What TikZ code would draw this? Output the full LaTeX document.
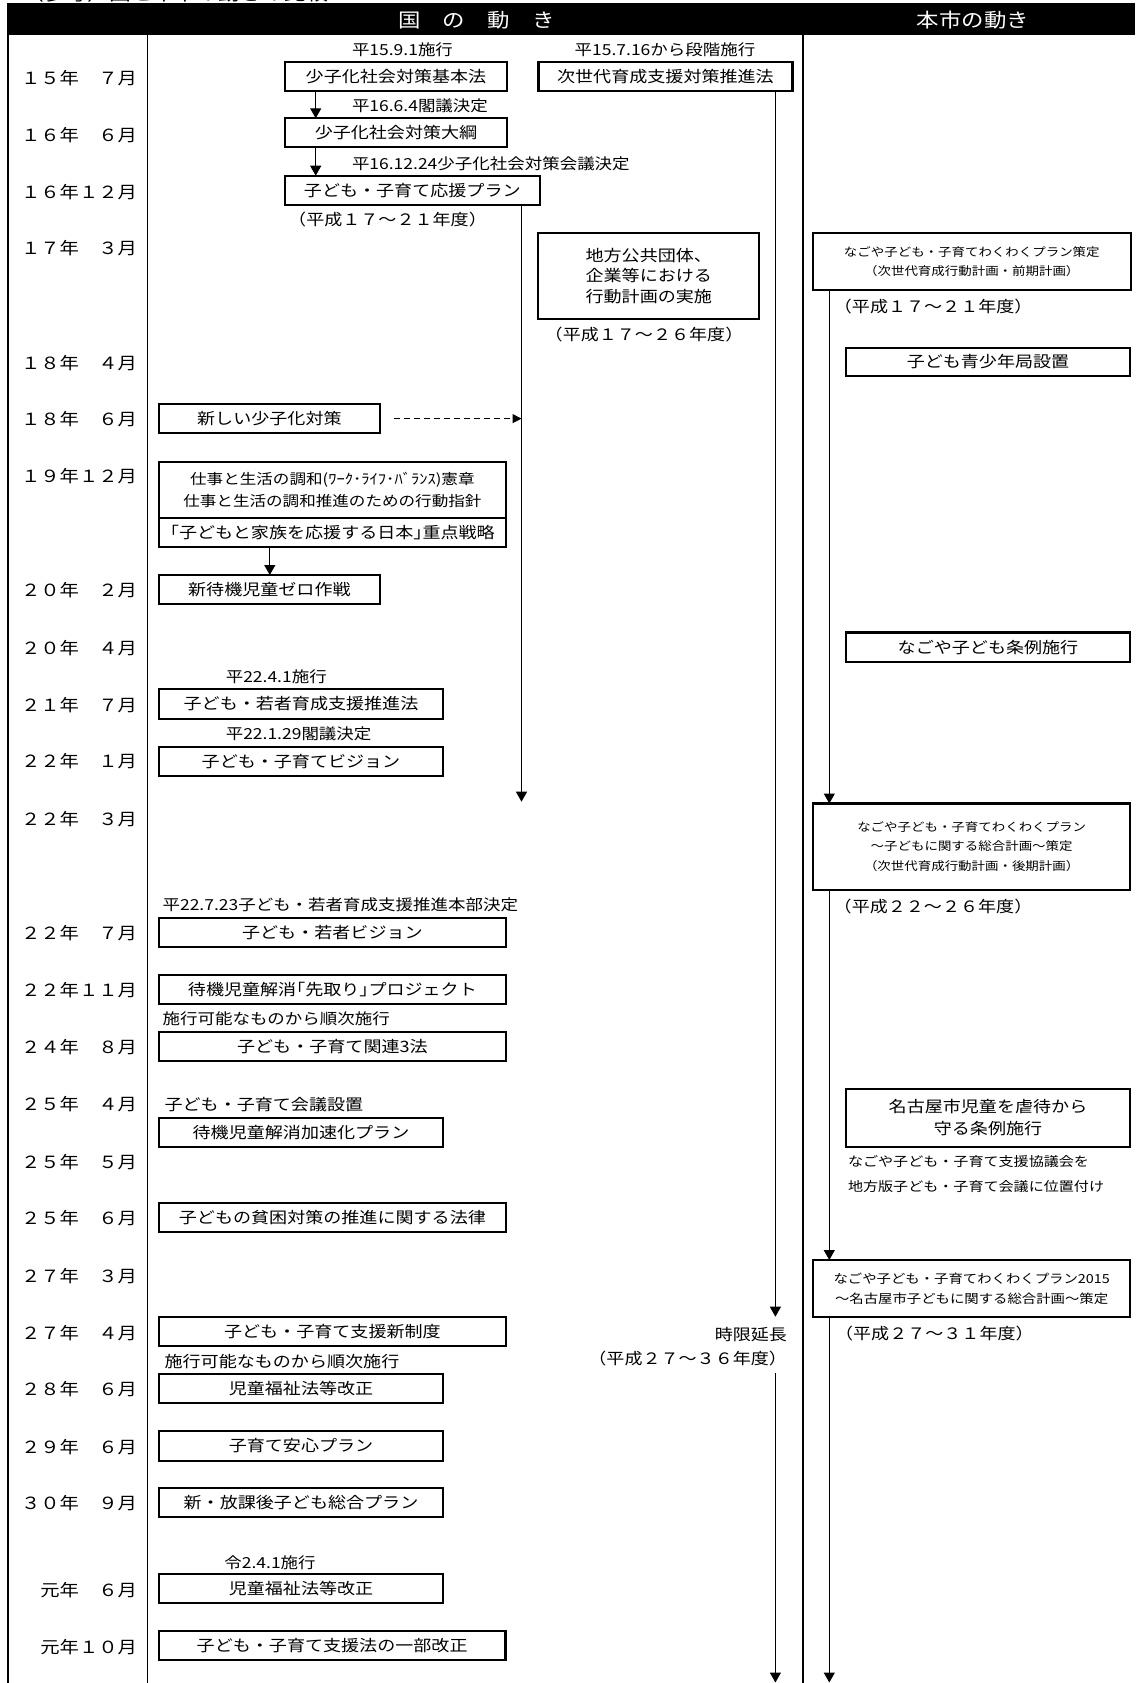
\documentclass[tikz,border=0pt]{standalone}
\usepackage{fontspec}
\setmainfont{Noto Sans CJK JP}[FakeStretch=1.15]
\usetikzlibrary{arrows.meta}
\newcommand\jfHead{\fontsize{19.5}{22}\selectfont}
\newcommand\jfDate{\fontsize{16.8}{19}\selectfont}
\newcommand\jfBox{\fontsize{15.7}{20}\selectfont}
\newcommand\jfSmall{\fontsize{15.2}{18}\selectfont}
\newcommand\jfWlb{\fontsize{14.4}{21.7}\selectfont}
\newcommand\jfTiny{\fontsize{11.7}{19.5}\selectfont}
\newcommand\jfPlan{\fontsize{12.5}{20}\selectfont}
\newcommand\jfKyogi{\fontsize{13.1}{16}\selectfont}
\begin{document}
\begin{tikzpicture}[x=1pt,y=-1pt,
  every node/.style={inner sep=0pt,outer sep=0pt},
  bx/.style={draw,line width=2.2pt,anchor=north west,align=center,font=\jfBox},
  datel/.style={anchor=east,font=\jfDate},
  sml/.style={font=\jfSmall},
  yr/.style={font=\jfBox},
  conn/.style={line width=1.2pt,-{Triangle[width=11pt,length=10pt]}},
  dconn/.style={line width=1.2pt,dash pattern=on 6pt off 4pt,-{Triangle[width=9pt,length=9pt]}},
  colline/.style={line width=#1},
]
\useasboundingbox (0,0) rectangle (1135,1683);
% title (cut off at top)
\begin{scope}
\clip (0,0) rectangle (1135,1683);
\node[anchor=base west,font=\fontsize{19}{22}\selectfont] (title) at (22,0.8) {（参考）国と本市の動きの比較};
\end{scope}
% header
\fill[black] (7,3.3) rectangle (1135,35.5);
\node[font=\jfHead,text=white] (hkuni) at (476.5,20) {国　の　動　き};
\node[font=\jfHead,text=white] (hshi) at (972.8,20) {本市の動き};
% column lines
\draw[colline=2.2pt] (8,35) -- (8,1683);
\draw[colline=1.6pt] (147.5,35) -- (147.5,1683);
\draw[colline=2.8pt] (803,35) -- (803,1683);
% dates
\node[datel] (d1) at (137,78.4) {１５年　７月};
\node[datel] (d2) at (137,135.3) {１６年　６月};
\node[datel] (d3) at (137,192) {１６年１２月};
\node[datel] (d4) at (137,248) {１７年　３月};
\node[datel] (d5) at (137,363) {１８年　４月};
\node[datel] (d6) at (137,419.5) {１８年　６月};
\node[datel] (d7) at (137,476.2) {１９年１２月};
\node[datel] (d8) at (137,590.3) {２０年　２月};
\node[datel] (d9) at (137,648) {２０年　４月};
\node[datel] (d10) at (137,705.2) {２１年　７月};
\node[datel] (d11) at (137,761.5) {２２年　１月};
\node[datel] (d12) at (137,819.3) {２２年　３月};
\node[datel] (d13) at (137,933.2) {２２年　７月};
\node[datel] (d14) at (137,990) {２２年１１月};
\node[datel] (d15) at (137,1046.8) {２４年　８月};
\node[datel] (d16) at (137,1104.5) {２５年　４月};
\node[datel] (d17) at (137,1161.8) {２５年　５月};
\node[datel] (d18) at (137,1218.5) {２５年　６月};
\node[datel] (d19) at (137,1276.5) {２７年　３月};
\node[datel] (d20) at (137,1332.7) {２７年　４月};
\node[datel] (d21) at (137,1389.4) {２８年　６月};
\node[datel] (d22) at (137,1447) {２９年　６月};
\node[datel] (d23) at (137,1503.3) {３０年　９月};
\node[datel] (d24) at (137,1590) {元年　６月};
\node[datel] (d25) at (137,1647) {元年１０月};
% national boxes
\node[bx,minimum width=222,minimum height=29] (kihon) at (285,61.7) {少子化社会対策基本法};
\node[bx,minimum width=222,minimum height=29] (taiko) at (285,118.3) {少子化社会対策大綱};
\node[bx,minimum width=254.6,minimum height=29] (ouen) at (285,175.7) {子ども・子育て応援プラン};
\node[bx,minimum width=253.9,minimum height=29] (jisedai) at (538.5,61.7) {次世代育成支援対策推進法};
\node[bx,minimum width=221,minimum height=86.6,align=left,font=\fontsize{15.7}{20.3}\selectfont] (chiho) at (538.3,232.7) {地方公共団体、\\企業等における\\行動計画の実施};
\node[bx,minimum width=221.2,minimum height=28.6] (atarashii) at (158.8,404.3) {新しい少子化対策};
\node[bx,minimum width=347.2,minimum height=56.6,font=\jfWlb] (wlb) at (158.8,461.7) {仕事と生活の調和(ﾜｰｸ･ﾗｲﾌ･ﾊﾞﾗﾝｽ)憲章\\仕事と生活の調和推進のための行動指針};
\node[bx,minimum width=347.2,minimum height=29] (juten) at (158.8,518.3) {｢子どもと家族を応援する日本｣重点戦略};
\node[bx,minimum width=221.2,minimum height=29] (zero) at (158.8,575) {新待機児童ゼロ作戦};
\node[bx,minimum width=284.4,minimum height=29.4] (wakamono) at (158.8,689.3) {子ども・若者育成支援推進法};
\node[bx,minimum width=284.4,minimum height=29] (vision) at (158.8,746.7) {子ども・子育てビジョン};
\node[bx,minimum width=347.2,minimum height=28.4] (wvision) at (158.8,918.3) {子ども・若者ビジョン};
\node[bx,minimum width=347.2,minimum height=29] (sakidori) at (158.8,975) {待機児童解消｢先取り｣プロジェクト};
\node[bx,minimum width=347.2,minimum height=28.7] (sanpo) at (158.8,1032.3) {子ども・子育て関連3法};
\node[bx,minimum width=284.4,minimum height=29] (kasoku) at (158.8,1117.7) {待機児童解消加速化プラン};
\node[bx,minimum width=347.2,minimum height=29] (hinkon) at (158.8,1203.3) {子どもの貧困対策の推進に関する法律};
\node[bx,minimum width=347.2,minimum height=29.3] (shinseido) at (158.8,1316.7) {子ども・子育て支援新制度};
\node[bx,minimum width=284.4,minimum height=28.7] (fukushia) at (158.8,1374) {児童福祉法等改正};
\node[bx,minimum width=284.4,minimum height=29.7] (anshin) at (158.8,1431) {子育て安心プラン};
\node[bx,minimum width=284.4,minimum height=29.6] (houkago) at (158.8,1487.7) {新・放課後子ども総合プラン};
\node[bx,minimum width=284.4,minimum height=29.3] (fukushib) at (158.8,1574) {児童福祉法等改正};
\node[bx,minimum width=346.7,minimum height=29.3] (shienho) at (158.8,1630.7) {子ども・子育て支援法の一部改正};
% national labels
\node[sml,anchor=west] (l1) at (352,50) {平15.9.1施行};
\node[sml,anchor=west] (l2) at (352,106) {平16.6.4閣議決定};
\node[sml,anchor=west] (l3) at (352,163.3) {平16.12.24少子化社会対策会議決定};
\node[sml] (l4) at (665,49.3) {平15.7.16から段階施行};
\node[yr] (r1) at (387.5,220) {（平成１７～２１年度）};
\node[yr] (r2) at (644,335) {（平成１７～２６年度）};
\node[sml,anchor=west] (l5) at (225.8,676.7) {平22.4.1施行};
\node[sml,anchor=west] (l6) at (225.8,733.3) {平22.1.29閣議決定};
\node[sml,anchor=west] (l7) at (162.6,905) {平22.7.23子ども・若者育成支援推進本部決定};
\node[sml,anchor=west] (l8) at (162.6,1018.3) {施行可能なものから順次施行};
\node[yr,anchor=west] (l9) at (164.6,1104.3) {子ども・子育て会議設置};
\node[yr,anchor=west] (l10) at (164.6,1361.7) {施行可能なものから順次施行};
\node[sml,anchor=west] (l11) at (224.4,1562.7) {令2.4.1施行};
\node[yr,anchor=east] (jigen) at (787,1335) {時限延長};
\node[yr,anchor=east] (r3) at (787,1358.3) {（平成２７～３６年度）};
% city boxes
\node[bx,minimum width=317.6,minimum height=56.7,font=\jfTiny] (zenki) at (813,233.3) {なごや子ども・子育てわくわくプラン策定\\（次世代育成行動計画・前期計画）};
\node[bx,minimum width=284,minimum height=28] (seishonen) at (846,348) {子ども青少年局設置};
\node[bx,minimum width=284,minimum height=29.6] (jorei) at (846,632.4) {なごや子ども条例施行};
\node[bx,minimum width=316.7,minimum height=86.1,font=\jfTiny] (kouki) at (813.3,803.5) {なごや子ども・子育てわくわくプラン\\～子どもに関する総合計画～策定\\（次世代育成行動計画・後期計画）};
\node[bx,minimum width=284,minimum height=57.4,font=\fontsize{15.7}{22}\selectfont] (gyakutai) at (846,1089.3) {名古屋市児童を虐待から\\守る条例施行};
\node[bx,minimum width=316.7,minimum height=56.7,font=\jfPlan] (plan) at (813.3,1260) {なごや子ども・子育てわくわくプラン2015\\～名古屋市子どもに関する総合計画～策定};
\node[yr] (r4) at (933.2,306.7) {（平成１７～２１年度）};
\node[yr] (r5) at (933,906.8) {（平成２２～２６年度）};
\node[yr] (r6) at (934.4,1333.3) {（平成２７～３１年度）};
\node[font=\jfKyogi,anchor=west] (k1) at (848,1161.7) {なごや子ども・子育て支援協議会を};
\node[font=\jfKyogi,anchor=west] (k2) at (848,1186.7) {地方版子ども・子育て会議に位置付け};
% connectors
\coordinate (cA) at (315.7,0);
\coordinate (cB) at (521.5,0);
\coordinate (cC) at (775.4,0);
\coordinate (cD) at (829.3,0);
\coordinate (cE) at (269.8,0);
\coordinate (endB) at (521.5,801.7);
\coordinate (endC1) at (775.4,1316.7);
\coordinate (startC2) at (775.4,1373.3);
\coordinate (endC2) at (775.4,1682.5);
\coordinate (endD) at (829.3,1682.5);
\draw[conn] (kihon.south -| cA) -- (taiko.north -| cA);
\draw[conn] (taiko.south -| cA) -- (ouen.north -| cA);
\draw[conn] (ouen.south -| cB) -- (endB);
\draw[dconn] ([xshift=14pt]atarashii.east) -- (atarashii.east -| cB);
\draw[conn] (jisedai.south -| cC) -- (endC1);
\draw[conn] (startC2) -- (endC2);
\draw[conn] (juten.south -| cE) -- (zero.north -| cE);
\draw[conn] (zenki.south -| cD) -- (kouki.north -| cD);
\draw[conn] (kouki.south -| cD) -- (plan.north -| cD);
\draw[conn] (plan.south -| cD) -- (endD);
\end{tikzpicture}
\end{document}
